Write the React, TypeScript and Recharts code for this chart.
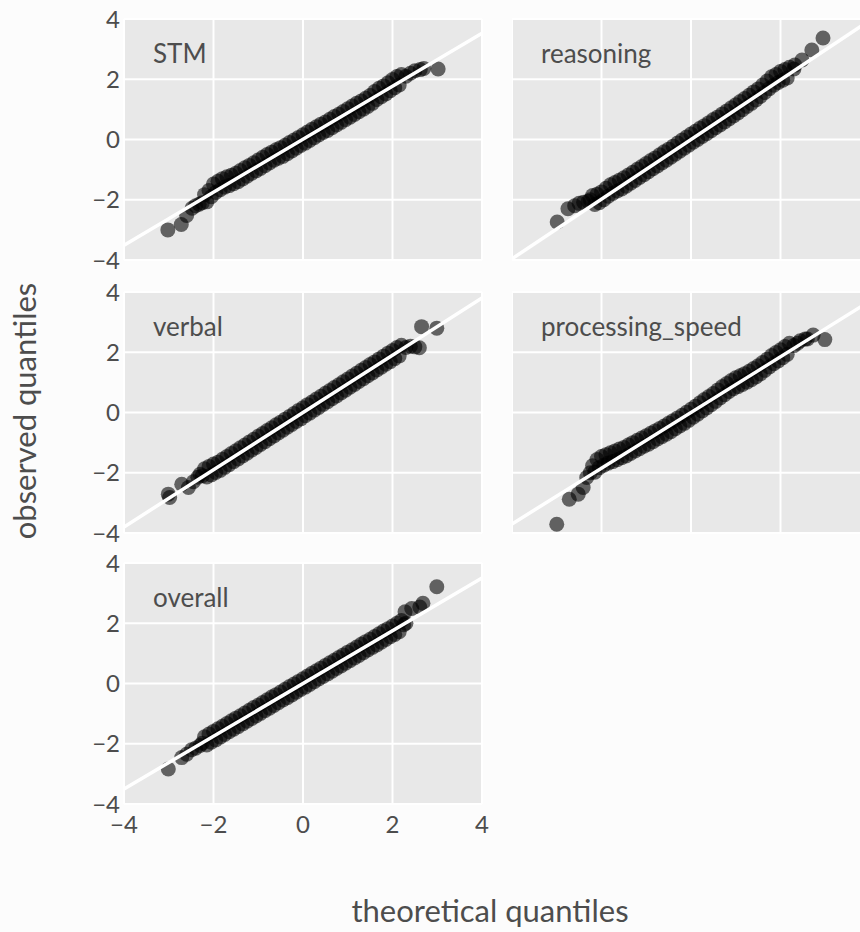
import React from 'react';
import { ScatterChart, Scatter, XAxis, YAxis, CartesianGrid } from 'recharts';

type Pt = [number, number];

const panelNames = ['STM', 'reasoning', 'verbal', 'processing_speed', 'overall'];

const stmPoints: Pt[] = [
  [-3.02, -3.0], [-2.72, -2.82], [-2.6, -2.52], [-2.48, -2.28], [-2.4, -2.2], [-2.32, -2.15], [-2.25, -2.1],
  [-2.2, -1.83], [-2.15, -2.07], [-2.1, -1.69], [-2.05, -1.9], [-2.0, -1.48], [-1.95, -1.76], [-1.9, -1.39],
  [-1.85, -1.67], [-1.8, -1.3], [-1.75, -1.58], [-1.7, -1.24], [-1.65, -1.53], [-1.6, -1.19], [-1.55, -1.47],
  [-1.5, -1.12], [-1.45, -1.4], [-1.4, -1.03], [-1.35, -1.31], [-1.3, -0.94], [-1.25, -1.22], [-1.2, -0.86],
  [-1.15, -1.13], [-1.1, -0.77], [-1.05, -1.04], [-1.0, -0.68], [-0.95, -0.96], [-0.9, -0.59], [-0.85, -0.87],
  [-0.8, -0.5], [-0.75, -0.78], [-0.7, -0.42], [-0.65, -0.69], [-0.6, -0.34], [-0.55, -0.62], [-0.5, -0.27],
  [-0.45, -0.56], [-0.4, -0.19], [-0.35, -0.47], [-0.3, -0.1], [-0.25, -0.38], [-0.2, -0.02], [-0.15, -0.29],
  [-0.1, 0.07], [-0.05, -0.2], [0.0, 0.16], [0.05, -0.12], [0.1, 0.25], [0.15, -0.03], [0.2, 0.34],
  [0.25, 0.06], [0.3, 0.42], [0.35, 0.15], [0.4, 0.51], [0.45, 0.23], [0.5, 0.58], [0.55, 0.3], [0.6, 0.67],
  [0.65, 0.39], [0.7, 0.76], [0.75, 0.48], [0.8, 0.84], [0.85, 0.57], [0.9, 0.93], [0.95, 0.66], [1.0, 1.02],
  [1.05, 0.74], [1.1, 1.11], [1.15, 0.83], [1.2, 1.2], [1.25, 0.92], [1.3, 1.28], [1.35, 1.01], [1.4, 1.37],
  [1.45, 1.1], [1.5, 1.46], [1.55, 1.2], [1.6, 1.59], [1.65, 1.33], [1.7, 1.7], [1.75, 1.42], [1.8, 1.78],
  [1.85, 1.51], [1.9, 1.88], [1.95, 1.62], [2.0, 1.99], [2.05, 1.72], [2.1, 2.09], [2.15, 1.81], [2.2, 2.16],
  [2.3, 2.1], [2.4, 2.2], [2.5, 2.28], [2.62, 2.32], [2.7, 2.36], [3.02, 2.34],
];

const reasoningPoints: Pt[] = [
  [-2.99, -2.74], [-2.75, -2.3], [-2.6, -2.2], [-2.5, -2.12], [-2.4, -2.08], [-2.3, -2.05], [-2.25, -2.0],
  [-2.2, -1.86], [-2.15, -2.16], [-2.1, -1.82], [-2.05, -2.1], [-2.0, -1.74], [-1.95, -2.0], [-1.9, -1.62],
  [-1.85, -1.88], [-1.8, -1.5], [-1.75, -1.79], [-1.7, -1.43], [-1.65, -1.71], [-1.6, -1.35], [-1.55, -1.64],
  [-1.5, -1.27], [-1.45, -1.55], [-1.4, -1.18], [-1.35, -1.45], [-1.3, -1.09], [-1.25, -1.36], [-1.2, -0.99],
  [-1.15, -1.26], [-1.1, -0.9], [-1.05, -1.17], [-1.0, -0.8], [-0.95, -1.07], [-0.9, -0.7], [-0.85, -0.97],
  [-0.8, -0.61], [-0.75, -0.88], [-0.7, -0.51], [-0.65, -0.78], [-0.6, -0.41], [-0.55, -0.69], [-0.5, -0.32],
  [-0.45, -0.59], [-0.4, -0.22], [-0.35, -0.49], [-0.3, -0.12], [-0.25, -0.39], [-0.2, -0.02], [-0.15, -0.29],
  [-0.1, 0.08], [-0.05, -0.19], [0.0, 0.18], [0.05, -0.09], [0.1, 0.27], [0.15, 0.0], [0.2, 0.37],
  [0.25, 0.1], [0.3, 0.46], [0.35, 0.19], [0.4, 0.56], [0.45, 0.29], [0.5, 0.66], [0.55, 0.39], [0.6, 0.75],
  [0.65, 0.48], [0.7, 0.85], [0.75, 0.58], [0.8, 0.95], [0.85, 0.68], [0.9, 1.05], [0.95, 0.78], [1.0, 1.15],
  [1.05, 0.88], [1.1, 1.26], [1.15, 0.99], [1.2, 1.36], [1.25, 1.1], [1.3, 1.47], [1.35, 1.2], [1.4, 1.58],
  [1.45, 1.31], [1.5, 1.68], [1.55, 1.43], [1.6, 1.81], [1.65, 1.56], [1.7, 1.94], [1.75, 1.69], [1.8, 2.08],
  [1.85, 1.8], [1.9, 2.16], [1.95, 1.89], [2.0, 2.26], [2.05, 1.97], [2.1, 2.32], [2.15, 2.04], [2.2, 2.4],
  [2.3, 2.34], [2.32, 2.47], [2.48, 2.64], [2.7, 2.97], [2.95, 3.37],
];

const verbalPoints: Pt[] = [
  [-3.01, -2.71], [-2.98, -2.82], [-2.71, -2.38], [-2.56, -2.49], [-2.45, -2.3], [-2.35, -2.15], [-2.3, -2.05],
  [-2.25, -2.1], [-2.2, -1.87], [-2.15, -2.14], [-2.1, -1.79], [-2.05, -2.07], [-2.0, -1.71], [-1.95, -1.99],
  [-1.9, -1.65], [-1.85, -1.92], [-1.8, -1.55], [-1.75, -1.82], [-1.7, -1.46], [-1.65, -1.73], [-1.6, -1.36],
  [-1.55, -1.63], [-1.5, -1.27], [-1.45, -1.54], [-1.4, -1.17], [-1.35, -1.44], [-1.3, -1.08], [-1.25, -1.35],
  [-1.2, -0.98], [-1.15, -1.25], [-1.1, -0.89], [-1.05, -1.16], [-1.0, -0.79], [-0.95, -1.06], [-0.9, -0.7],
  [-0.85, -0.97], [-0.8, -0.6], [-0.75, -0.87], [-0.7, -0.51], [-0.65, -0.78], [-0.6, -0.41], [-0.55, -0.68],
  [-0.5, -0.32], [-0.45, -0.59], [-0.4, -0.22], [-0.35, -0.49], [-0.3, -0.13], [-0.25, -0.4], [-0.2, -0.03],
  [-0.15, -0.3], [-0.1, 0.07], [-0.05, -0.21], [0.0, 0.16], [0.05, -0.11], [0.1, 0.26], [0.15, -0.02],
  [0.2, 0.35], [0.25, 0.08], [0.3, 0.45], [0.35, 0.17], [0.4, 0.54], [0.45, 0.27], [0.5, 0.64], [0.55, 0.36],
  [0.6, 0.73], [0.65, 0.46], [0.7, 0.83], [0.75, 0.55], [0.8, 0.92], [0.85, 0.65], [0.9, 1.02], [0.95, 0.74],
  [1.0, 1.11], [1.05, 0.84], [1.1, 1.21], [1.15, 0.93], [1.2, 1.3], [1.25, 1.03], [1.3, 1.4], [1.35, 1.12],
  [1.4, 1.49], [1.45, 1.22], [1.5, 1.59], [1.55, 1.31], [1.6, 1.68], [1.65, 1.41], [1.7, 1.78], [1.75, 1.5],
  [1.8, 1.87], [1.85, 1.6], [1.9, 1.97], [1.95, 1.69], [2.0, 2.06], [2.05, 1.79], [2.1, 2.16], [2.15, 1.88],
  [2.2, 2.23], [2.3, 2.16], [2.4, 2.2], [2.5, 2.18], [2.6, 2.15], [2.65, 2.85], [2.99, 2.8],
];

const speedPoints: Pt[] = [
  [-3.0, -3.71], [-2.72, -2.88], [-2.52, -2.71], [-2.41, -2.49], [-2.33, -2.16], [-2.25, -2.0],
  [-2.2, -1.77], [-2.15, -1.98], [-2.1, -1.56], [-2.05, -1.83], [-2.0, -1.46], [-1.95, -1.75], [-1.9, -1.4],
  [-1.85, -1.68], [-1.8, -1.34], [-1.75, -1.63], [-1.7, -1.28], [-1.65, -1.57], [-1.6, -1.21], [-1.55, -1.5],
  [-1.5, -1.16], [-1.45, -1.44], [-1.4, -1.08], [-1.35, -1.36], [-1.3, -1.0], [-1.25, -1.28], [-1.2, -0.92],
  [-1.15, -1.2], [-1.1, -0.85], [-1.05, -1.12], [-1.0, -0.77], [-0.95, -1.05], [-0.9, -0.69], [-0.85, -0.97],
  [-0.8, -0.61], [-0.75, -0.88], [-0.7, -0.53], [-0.65, -0.8], [-0.6, -0.45], [-0.55, -0.72], [-0.5, -0.36],
  [-0.45, -0.64], [-0.4, -0.27], [-0.35, -0.54], [-0.3, -0.18], [-0.25, -0.45], [-0.2, -0.09], [-0.15, -0.36],
  [-0.1, 0.01], [-0.05, -0.26], [0.0, 0.11], [0.05, -0.16], [0.1, 0.21], [0.15, -0.06], [0.2, 0.32],
  [0.25, 0.05], [0.3, 0.43], [0.35, 0.15], [0.4, 0.53], [0.45, 0.26], [0.5, 0.63], [0.55, 0.37], [0.6, 0.75],
  [0.65, 0.48], [0.7, 0.86], [0.75, 0.59], [0.8, 0.96], [0.85, 0.7], [0.9, 1.06], [0.95, 0.79], [1.0, 1.15],
  [1.05, 0.86], [1.1, 1.22], [1.15, 0.93], [1.2, 1.29], [1.25, 1.01], [1.3, 1.37], [1.35, 1.09], [1.4, 1.46],
  [1.45, 1.18], [1.5, 1.55], [1.55, 1.28], [1.6, 1.66], [1.65, 1.4], [1.7, 1.77], [1.75, 1.51], [1.8, 1.89],
  [1.85, 1.62], [1.9, 1.99], [1.95, 1.71], [2.0, 2.08], [2.05, 1.82], [2.1, 2.19], [2.15, 1.93], [2.2, 2.3],
  [2.3, 2.22], [2.38, 2.3], [2.44, 2.38], [2.55, 2.44], [2.6, 2.44], [2.73, 2.57], [2.99, 2.42],
];

const overallPoints: Pt[] = [
  [-3.01, -2.84], [-2.71, -2.46], [-2.6, -2.35], [-2.49, -2.2], [-2.4, -2.15], [-2.3, -2.06], [-2.25, -1.98],
  [-2.2, -1.77], [-2.15, -2.04], [-2.1, -1.68], [-2.05, -1.95], [-2.0, -1.59], [-1.95, -1.87], [-1.9, -1.5],
  [-1.85, -1.78], [-1.8, -1.42], [-1.75, -1.69], [-1.7, -1.33], [-1.65, -1.6], [-1.6, -1.24], [-1.55, -1.52],
  [-1.5, -1.15], [-1.45, -1.43], [-1.4, -1.07], [-1.35, -1.34], [-1.3, -0.98], [-1.25, -1.25], [-1.2, -0.89],
  [-1.15, -1.17], [-1.1, -0.8], [-1.05, -1.08], [-1.0, -0.72], [-0.95, -0.99], [-0.9, -0.63], [-0.85, -0.9],
  [-0.8, -0.54], [-0.75, -0.82], [-0.7, -0.45], [-0.65, -0.73], [-0.6, -0.37], [-0.55, -0.64], [-0.5, -0.28],
  [-0.45, -0.55], [-0.4, -0.19], [-0.35, -0.47], [-0.3, -0.1], [-0.25, -0.38], [-0.2, -0.02], [-0.15, -0.29],
  [-0.1, 0.07], [-0.05, -0.2], [0.0, 0.16], [0.05, -0.12], [0.1, 0.25], [0.15, -0.03], [0.2, 0.34],
  [0.25, 0.06], [0.3, 0.42], [0.35, 0.15], [0.4, 0.51], [0.45, 0.23], [0.5, 0.6], [0.55, 0.32], [0.6, 0.69],
  [0.65, 0.41], [0.7, 0.77], [0.75, 0.5], [0.8, 0.86], [0.85, 0.58], [0.9, 0.95], [0.95, 0.67], [1.0, 1.04],
  [1.05, 0.76], [1.1, 1.12], [1.15, 0.85], [1.2, 1.21], [1.25, 0.93], [1.3, 1.3], [1.35, 1.02], [1.4, 1.39],
  [1.45, 1.11], [1.5, 1.47], [1.55, 1.2], [1.6, 1.56], [1.65, 1.28], [1.7, 1.65], [1.75, 1.37], [1.8, 1.74],
  [1.85, 1.46], [1.9, 1.82], [1.95, 1.55], [2.0, 1.91], [2.05, 1.63], [2.1, 2.0], [2.15, 1.72], [2.2, 2.09],
  [2.25, 1.95], [2.3, 2.0], [2.28, 2.38], [2.43, 2.49], [2.61, 2.54], [2.68, 2.66], [2.99, 3.21],
];

// qq reference line per panel: [slope, intercept]
const qqLines: Pt[] = [[0.88, 0.01], [0.99, 0.0], [0.95, 0.0], [0.925, 0.0], [0.875, 0.0]];

const panelPoints = [stmPoints, reasoningPoints, verbalPoints, speedPoints, overallPoints];

const axisTicks = [-4, -2, 0, 2, 4];

const PANEL_TOP = [19, 292, 563];
const PANEL_LEFT = [124, 512];
const PANEL_W = 358;
const PANEL_H = 241;
const PAD = 20;
const TEXT = '#4d4d4d';

const fmt = (v: number) => String(v).replace('-', '\u2212');

const Dot = (props: any) => (
  <circle cx={props.cx} cy={props.cy} r={7.5} fill="#000" fillOpacity={0.58} />
);

const Panel = ({ idx }: { idx: number }) => {
  const col = idx % 2;
  const row = Math.floor(idx / 2);
  const showY = col === 0;
  const showX = row === 2;
  const data = panelPoints[idx].map(([x, y]) => ({ x, y }));
  const [slope, icpt] = qqLines[idx];
  const lineData = [-4, 4].map(x => ({ x, y: slope * x + icpt }));
  const left = col === 0 ? 0 : PANEL_LEFT[1];
  const rightPad = col === 0 ? PAD : 0;
  const width = (col === 0 ? PANEL_LEFT[0] + PANEL_W : PANEL_W) + rightPad;
  const height = PAD + PANEL_H + (showX ? 50 : PAD);

  return (
    <div style={{ position: 'absolute', left, top: PANEL_TOP[row] - PAD }}>
      <ScatterChart
        width={width}
        height={height}
        margin={{ top: PAD, right: rightPad, bottom: showX ? 0 : PAD, left: 0 }}
      >
        <CartesianGrid fill="#e8e8e8" stroke="#ffffff" strokeWidth={2} />
        <XAxis
          type="number"
          dataKey="x"
          domain={[-4, 4]}
          ticks={axisTicks}
          allowDataOverflow
          hide={!showX}
          height={50}
          axisLine={false}
          tickLine={false}
          tickSize={0}
          tickMargin={12}
          interval={0}
          tickFormatter={fmt}
          tick={{ fill: TEXT, fontSize: 24 }}
        />
        <YAxis
          type="number"
          dataKey="y"
          domain={[-4, 4]}
          ticks={axisTicks}
          allowDataOverflow
          hide={!showY}
          width={PANEL_LEFT[0]}
          axisLine={false}
          tickLine={false}
          tickSize={0}
          tickMargin={4}
          interval={0}
          tickFormatter={fmt}
          tick={{ fill: TEXT, fontSize: 24 }}
        />
        <Scatter data={data} shape={Dot} isAnimationActive={false} />
        <Scatter
          data={lineData}
          line={{ stroke: '#ffffff', strokeWidth: 3.5 }}
          shape={() => <g />}
          isAnimationActive={false}
        />
      </ScatterChart>
    </div>
  );
};

export default function App() {
  return (
    <div
      style={{
        position: 'absolute',
        left: 0,
        top: 0,
        width: 860,
        height: 932,
        overflow: 'hidden',
        background: '#fcfcfc',
        fontFamily: 'Lato, sans-serif',
      }}
    >
      {panelNames.map((_, i) => (
        <Panel key={i} idx={i} />
      ))}
      <svg
        width={860}
        height={932}
        style={{ position: 'absolute', left: 0, top: 0, pointerEvents: 'none' }}
      >
        {panelNames.map((name, i) => (
          <text
            key={name}
            x={PANEL_LEFT[i % 2] + 29}
            y={PANEL_TOP[Math.floor(i / 2)] + 44}
            fontSize={26}
            fill={TEXT}
          >
            {name}
          </text>
        ))}
        <text x={490} y={922} fontSize={31} fill={TEXT} textAnchor="middle">
          theoretical quantiles
        </text>
        <text
          x={36}
          y={411}
          fontSize={31}
          fill={TEXT}
          textAnchor="middle"
          transform="rotate(-90, 36, 411)"
        >
          observed quantiles
        </text>
      </svg>
    </div>
  );
}
